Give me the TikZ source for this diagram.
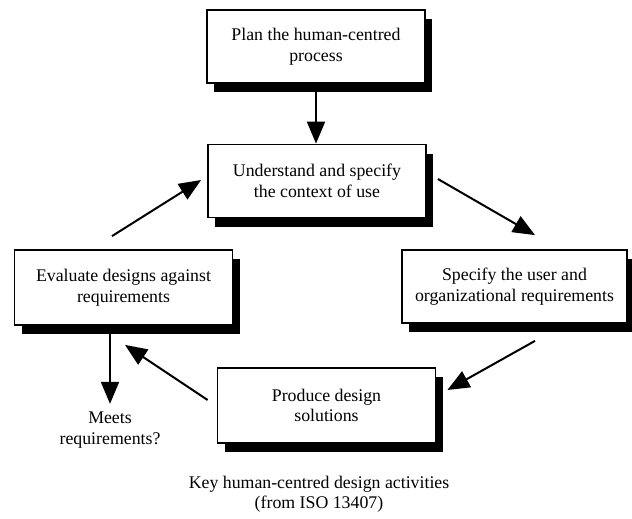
\documentclass[tikz,border=0pt]{standalone}
\usepackage{fontspec}
\setmainfont{Liberation Serif}
\usetikzlibrary{positioning,arrows.meta,shadows}
\tikzstyle{activity} = [rectangle, draw=black, line width=1.8pt, fill=white, minimum width=218pt, minimum height=73pt, align=center, drop shadow={shadow xshift=7pt, shadow yshift=-9pt, fill=black, opacity=1}]
\tikzstyle{flow}     = [line width=2pt, -{Triangle[length=22pt,width=18pt]}]

\begin{document}
\begin{tikzpicture}[x=1pt, y=-1pt, font=\fontsize{17.8}{20.5}\selectfont,
			note/.style={align=center, inner sep=2pt}]
		\useasboundingbox (0,0) rectangle (632,519);

		% the five activities
		\node[activity] (plan)       at (316,46.5)  {Plan the human-centred\\process};
		\node[activity] (understand) at (317,181)   {Understand and specify\\the context of use};
		\node[activity, minimum width=225pt] (specify) at (514.5,286.5) {Specify the user and\\organizational requirements};
		\node[activity, minimum height=75pt] (produce)  at (326.5,405.5) {Produce design\\solutions};
		\node[activity, minimum height=75pt] (evaluate) at (123.5,287.5) {Evaluate designs against\\requirements};

		\node[note] (meets)   at (110,430) {Meets\\requirements?};
		\node[note] (caption) at (319,494) {Key human-centred design activities\\(from ISO 13407)};

		% connectors
		\draw[flow] (plan.south) -- (plan.south |- understand.north);
		\draw[flow] ([shift={(11pt,2pt)}]understand.east) -- ([shift={(20.5pt,14pt)}]specify.north);
		\draw[flow] ([shift={(20.5pt,-17pt)}]specify.south) -- ([shift={(11pt,15.5pt)}]produce.east);
		\draw[flow] ([shift={(-9pt,5.5pt)}]produce.west) -- ([shift={(1.5pt,-19pt)}]evaluate.south);
		\draw[flow] ([shift={(-11.5pt,13pt)}]evaluate.north) -- ([shift={(-6pt,1pt)}]understand.west);
		\draw[flow, shorten >=6pt] (meets.north |- evaluate.south) -- (meets.north);
	\end{tikzpicture}
\end{document}
